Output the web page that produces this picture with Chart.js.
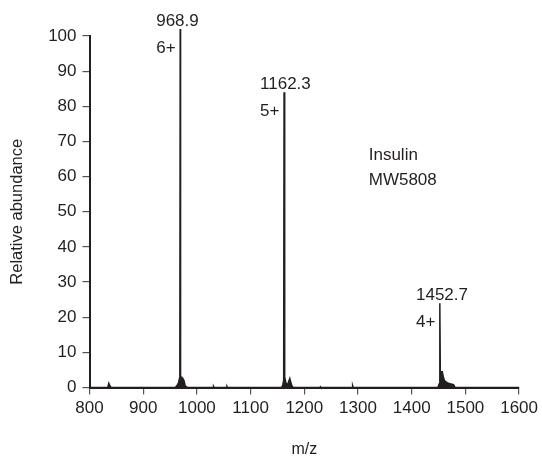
<!DOCTYPE html>
<html>
<head>
<meta charset="utf-8">
<script src="https://cdn.jsdelivr.net/npm/chart.js@4/dist/chart.umd.min.js"></script>
<style>
  html, body { margin: 0; padding: 0; background: #ffffff; }
  #wrap { width: 542px; height: 460px; }
</style>
</head>
<body>
<div id="wrap"><canvas id="c" width="542" height="460"></canvas></div>
<script>
// ---- Data ----
const mz = [800, 834, 836, 838, 840, 960, 964, 966, 968.2, 968.9, 969.6, 971, 972.5, 974, 976, 978, 980, 983,
            1030, 1031, 1032, 1055, 1056, 1057,
            1158, 1160, 1161.6, 1162.3, 1163, 1164, 1166, 1169, 1171, 1173, 1175, 1177, 1180,
            1229, 1230, 1231, 1289, 1290, 1291,
            1449, 1451, 1452.1, 1452.7, 1453.3, 1455, 1457, 1459, 1461, 1464, 1468, 1473, 1478, 1481, 1600];
const abundance = [0, 0, 1.2, 0.5, 0, 0, 0.8, 1.5, 3, 102, 3, 1.2, 2.8, 2.4, 2, 0.6, 0.2, 0,
                   0, 0.3, 0, 0, 0.3, 0,
                   0, 0.8, 2, 84, 7, 3, 1.2, 0.8, 1.8, 2.6, 1.4, 0.4, 0,
                   0, 0.2, 0, 0, 0.5, 0,
                   0, 1, 3, 24, 4, 4.5, 4.5, 3, 2, 1.6, 1.2, 1, 0.8, 0, 0];
const peakMz = [968.9, 1162.3, 1452.7];
const peakHeight = [102, 84, 24];
const peakLabels = ["968.9", "1162.3", "1452.7"];
const chargeLabels = ["6+", "5+", "4+"];
const xTicks = [800, 900, 1000, 1100, 1200, 1300, 1400, 1500, 1600];
const yTicks = [0, 10, 20, 30, 40, 50, 60, 70, 80, 90, 100];
const noteLines = ["Insulin", "MW5808"];
const noteAt = { x: 1320, y: [66, 59] };

const INK = '#231f20';
const FONT = "'Liberation Sans', Arial, sans-serif";

const points = mz.map((m, i) => ({ x: m, y: abundance[i] }));

const annotatePlugin = {
  id: 'annot',
  afterDatasetsDraw(chart) {
    const { ctx, scales: { x, y } } = chart;
    ctx.save();
    ctx.fillStyle = INK;
    ctx.font = '17px ' + FONT;
    ctx.textAlign = 'left';
    ctx.textBaseline = 'middle';
    peakMz.forEach((m, i) => {
      const px = x.getPixelForValue(m);
      const py = y.getPixelForValue(peakHeight[i]);
      ctx.fillText(peakLabels[i], px - 24, py - 8);
      ctx.fillText(chargeLabels[i], px - 24, py + 19);
    });
    noteLines.forEach((t, i) => {
      ctx.fillText(t, x.getPixelForValue(noteAt.x), y.getPixelForValue(noteAt.y[i]));
    });
    ctx.restore();
  }
};

new Chart(document.getElementById('c'), {
  type: 'line',
  data: {
    datasets: [{
      data: points,
      borderColor: INK,
      backgroundColor: INK,
      borderWidth: 1.5,
      pointRadius: 0,
      tension: 0,
      fill: 'origin',
      clip: false
    }]
  },
  options: {
    responsive: false,
    animation: false,
    devicePixelRatio: 1,
    layout: { padding: { top: 36, right: 20, left: 0, bottom: 0 } },
    plugins: { legend: { display: false }, tooltip: { enabled: false } },
    scales: {
      x: {
        type: 'linear',
        min: 800, max: 1600,
        afterBuildTicks(s) { s.ticks = xTicks.map(v => ({ value: v })); },
        afterFit(s) { s.height = 72.5; },
        ticks: { color: INK, font: { size: 17, family: FONT }, padding: 4, maxRotation: 0,
                 callback: (v) => String(v) },
        grid: { drawOnChartArea: false, drawTicks: true, tickLength: 7, tickColor: '#555', lineWidth: 1.2 },
        border: { display: true, color: INK, width: 2 },
        title: { display: true, text: 'm/z', color: INK, font: { size: 16, family: FONT }, padding: { top: 0, bottom: 1 } }
      },
      y: {
        type: 'linear',
        min: 0, max: 100,
        afterBuildTicks(s) { s.ticks = yTicks.map(v => ({ value: v })); },
        afterFit(s) { s.width = 89.5; },
        ticks: { color: INK, font: { size: 17, family: FONT }, padding: 6,
                 callback: (v) => String(v) },
        grid: { drawOnChartArea: false, drawTicks: true, tickLength: 7, tickColor: '#555', lineWidth: 1.2 },
        border: { display: true, color: INK, width: 2 },
        title: { display: true, text: 'Relative abundance', color: INK, font: { size: 16.5, family: FONT }, padding: { top: 8, bottom: 0 } }
      }
    }
  },
  plugins: [annotatePlugin]
});
</script>
</body>
</html>
